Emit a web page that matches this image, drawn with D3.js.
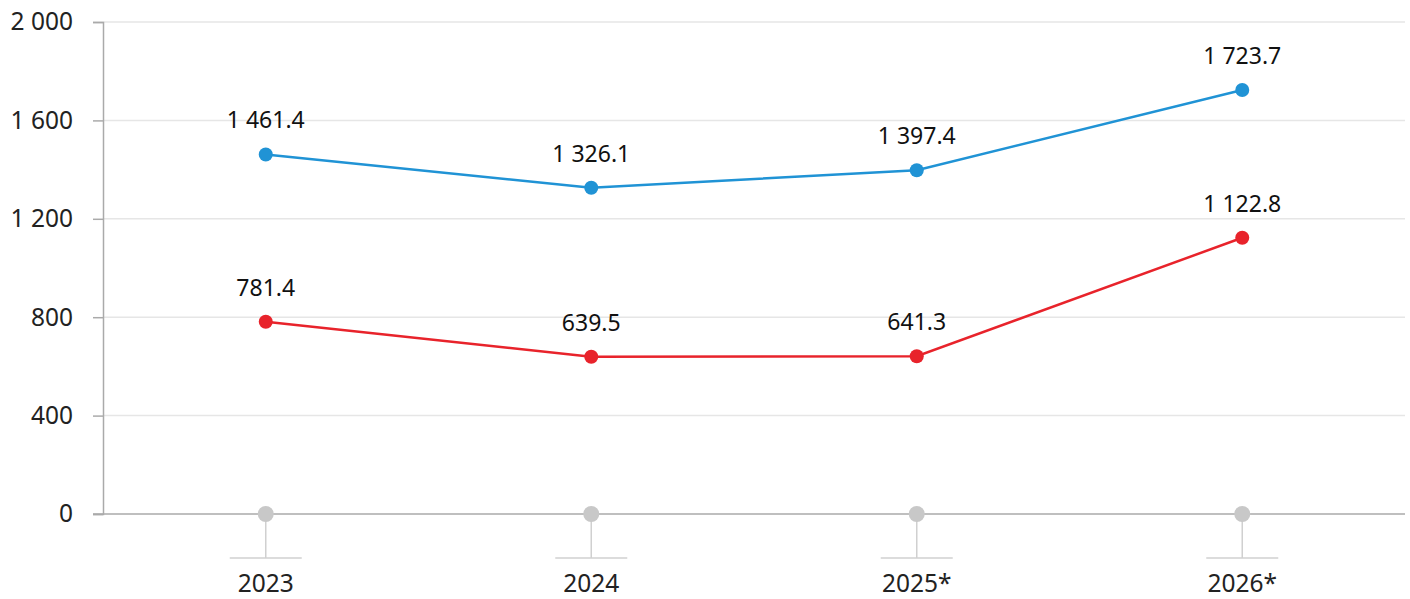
<!DOCTYPE html>
<html>
<head>
<meta charset="utf-8">
<script src="https://cdn.jsdelivr.net/npm/d3@7"></script>
<style>
  body { margin: 0; background: #fff; }
  svg text { font-family: "Noto Sans", sans-serif; }
</style>
</head>
<body>
<div class="chart"></div>
<script>
// chart data
var years = ["2023", "2024", "2025*", "2026*"];
var blueValues = [1461.4, 1326.1, 1397.4, 1723.7];
var redValues = [781.4, 639.5, 641.3, 1122.8];
var yTicks = [0, 400, 800, 1200, 1600, 2000];

var svgWidth = 1410;
var svgHeight = 599;
var margin = { top: 22, right: 5, bottom: 85, left: 103 };
var width = svgWidth - margin.left - margin.right;
var height = svgHeight - margin.top - margin.bottom;

var svg = d3.select(".chart")
  .append("svg")
  .attr("width", svgWidth)
  .attr("height", svgHeight);

var chartGroup = svg.append("g")
  .attr("transform", `translate(${margin.left}, ${margin.top})`);

var xScale = d3.scaleBand().domain(years).range([0, width]).padding(0);
var yScale = d3.scaleLinear().domain([0, 2000]).range([height, 0]);

// number format with space as thousands separator
var fmtLocale = d3.formatLocale({ decimal: ".", thousands: " ", grouping: [3], currency: ["", ""] });
var fmtTick = fmtLocale.format(",d");
var fmtVal = fmtLocale.format(",.1f");

// gridlines
chartGroup.selectAll(".grid")
  .data(yTicks.filter(d => d > 0))
  .enter()
  .append("line")
  .attr("x1", 0)
  .attr("x2", width)
  .attr("y1", d => yScale(d))
  .attr("y2", d => yScale(d))
  .attr("stroke", "#e6e6e6")
  .attr("stroke-width", 1.5);

// y axis
var leftAxis = d3.axisLeft(yScale).tickValues(yTicks).tickSize(10).tickPadding(20).tickFormat(fmtTick);
var yAxis = chartGroup.append("g").call(leftAxis);
yAxis.select(".domain").attr("stroke", "#aaaaaa").attr("stroke-width", 1.5);
yAxis.selectAll(".tick line").attr("stroke", "#aaaaaa").attr("stroke-width", 1.5);
yAxis.selectAll(".tick text")
  .attr("font-size", 24.5)
  .attr("fill", "#222");

// baseline
chartGroup.append("line")
  .attr("x1", -10)
  .attr("x2", width)
  .attr("y1", height)
  .attr("y2", height)
  .attr("stroke", "#aaaaaa")
  .attr("stroke-width", 1.5);

// category stems and ticks below the baseline
var cats = chartGroup.selectAll(".cat")
  .data(years)
  .enter()
  .append("g")
  .attr("transform", d => `translate(${xScale(d) + xScale.bandwidth() / 2}, ${height})`);

cats.append("line")
  .attr("x1", 0).attr("x2", 0)
  .attr("y1", 0).attr("y2", 44)
  .attr("stroke", "#d0d0d0")
  .attr("stroke-width", 1.5);

cats.append("line")
  .attr("x1", -36).attr("x2", 36)
  .attr("y1", 44).attr("y2", 44)
  .attr("stroke", "#d0d0d0")
  .attr("stroke-width", 1.5);

cats.append("circle")
  .attr("r", 8)
  .attr("fill", "#c8c8c8");

cats.append("text")
  .attr("y", 78)
  .attr("text-anchor", "middle")
  .attr("font-size", 24.5)
  .attr("fill", "#222")
  .text(d => d);

// series lines
function drawSeries(values, color) {
  var pts = years.map((y, i) => ({ year: y, value: values[i] }));
  var line = d3.line()
    .x(d => xScale(d.year) + xScale.bandwidth() / 2)
    .y(d => yScale(d.value));

  chartGroup.append("path")
    .datum(pts)
    .attr("d", line)
    .attr("fill", "none")
    .attr("stroke", color)
    .attr("stroke-width", 2.5);

  chartGroup.selectAll(null)
    .data(pts)
    .enter()
    .append("circle")
    .attr("cx", d => xScale(d.year) + xScale.bandwidth() / 2)
    .attr("cy", d => yScale(d.value))
    .attr("r", 7)
    .attr("fill", color);

  chartGroup.selectAll(null)
    .data(pts)
    .enter()
    .append("text")
    .attr("x", d => xScale(d.year) + xScale.bandwidth() / 2)
    .attr("y", d => yScale(d.value) - 26)
    .attr("text-anchor", "middle")
    .attr("font-size", 23)
    .attr("fill", "#111")
    .text(d => fmtVal(d.value));
}

drawSeries(blueValues, "#2093d5");
drawSeries(redValues, "#e8232b");
</script>
</body>
</html>
